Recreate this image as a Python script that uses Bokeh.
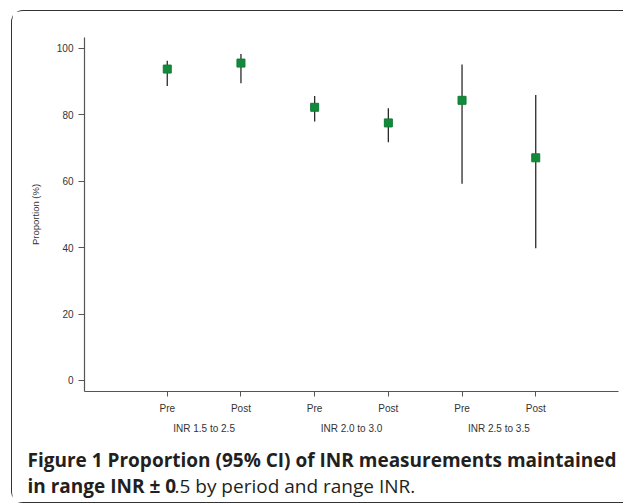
from bokeh.plotting import figure
from bokeh.models import FactorRange, FixedTicker, Label, Range1d
from bokeh.layouts import column
from bokeh.embed import file_html
from bokeh.resources import INLINE

# ---- data ----
groups = ["INR 1.5 to 2.5", "INR 2.0 to 3.0", "INR 2.5 to 3.5"]
periods = ["Pre", "Post"]
proportion = [93.7, 95.5, 82.2, 77.5, 84.3, 67.0]
ci_lower = [88.6, 89.4, 77.9, 71.7, 59.2, 39.8]
ci_upper = [96.2, 98.2, 85.6, 81.9, 95.1, 85.9]
y_ticks = [0, 20, 40, 60, 80, 100]
factors = [(g, per) for g in groups for per in periods]

caption_bold_1 = "Figure 1 Proportion (95% CI) of INR measurements maintained"
caption_bold_2 = "in range INR \u00b1 0"
caption_rest_2 = ".5 by period and range INR."

FONT = "Liberation Sans"
CAP_FONT = "Open Sans"
INK = "#231f20"

PW, PH = 611, 428   # main plot
CH = 63             # caption strip

p = figure(width=PW, height=PH, output_backend="svg", toolbar_location=None,
           x_range=FactorRange(*factors, group_padding=0, factor_padding=0,
                               range_padding=0.623, range_padding_units="absolute"),
           y_range=Range1d(-3.31, 103.2),
           min_border_left=72, min_border_right=5, min_border_top=26, min_border_bottom=48,
           background_fill_color="white", border_fill_color="white")
p.frame_align = False
p.outline_line_color = None
p.xgrid.grid_line_color = None
p.ygrid.grid_line_color = None

p.yaxis.ticker = FixedTicker(ticks=y_ticks)
p.yaxis.minor_tick_line_color = None
p.yaxis.major_tick_in = 0
p.yaxis.major_tick_out = 6
p.yaxis.major_label_standoff = 5
p.yaxis.axis_label = "Proportion (%)"
p.yaxis.axis_label_standoff = 13
p.yaxis.axis_label_text_font = FONT
p.yaxis.axis_label_text_font_style = "normal"
p.yaxis.axis_label_text_font_size = "9.5px"
p.yaxis.axis_label_text_color = "#333333"

xa = p.xaxis[0]
xa.major_tick_in = 0
xa.major_tick_out = 5
xa.major_label_standoff = 6
xa.group_text_font = FONT
xa.group_text_font_size = "10px"
xa.group_text_font_style = "normal"
xa.group_text_color = "#333333"
xa.separator_line_color = None

for ax in (p.xaxis[0], p.yaxis[0]):
    ax.axis_line_color = "#555555"
    ax.axis_line_width = 1.2
    ax.major_tick_line_color = "#555555"
    ax.major_tick_line_width = 1
    ax.major_label_text_font = FONT
    ax.major_label_text_font_size = "10px"
    ax.major_label_text_color = "#333333"

p.segment(x0=factors, y0=ci_lower, x1=factors, y1=ci_upper,
          line_color="#2a2a2a", line_width=1.3)
p.scatter(x=factors, y=proportion, marker="square", size=8,
          fill_color="#138a3b", line_color="#0f7d34", line_width=1)

# caption strip (pixel-like coordinates, top-down)
c = figure(width=PW, height=CH, output_backend="svg", toolbar_location=None,
           x_range=Range1d(0, PW), y_range=Range1d(CH, 0),
           x_axis_type=None, y_axis_type=None, min_border=0,
           background_fill_color="white", border_fill_color="white")
c.frame_align = False
c.outline_line_color = None
c.xgrid.grid_line_color = None
c.ygrid.grid_line_color = None

cap_size = "19px"
c.add_layout(Label(x=15, y=20.5, text=caption_bold_1, text_font=CAP_FONT,
                   text_font_style="bold", text_font_size=cap_size, text_color=INK,
                   text_baseline="alphabetic"))
c.add_layout(Label(x=15, y=46.5, text=caption_bold_2, text_font=CAP_FONT,
                   text_font_style="bold", text_font_size=cap_size, text_color=INK,
                   text_baseline="alphabetic"))
c.add_layout(Label(x=162, y=46.5, text=caption_rest_2, text_font=CAP_FONT,
                   text_font_style="normal", text_font_size=cap_size, text_color=INK,
                   text_baseline="alphabetic"))

border = "1.5px solid #333333"
layout = column(p, c, spacing=0, margin=(10, 0, 0, 11),
                styles={"border-top": border, "border-left": border, "border-bottom": border,
                        "border-top-left-radius": "12px", "border-bottom-left-radius": "12px"})

open("out.html", "w").write(file_html(layout, INLINE))
